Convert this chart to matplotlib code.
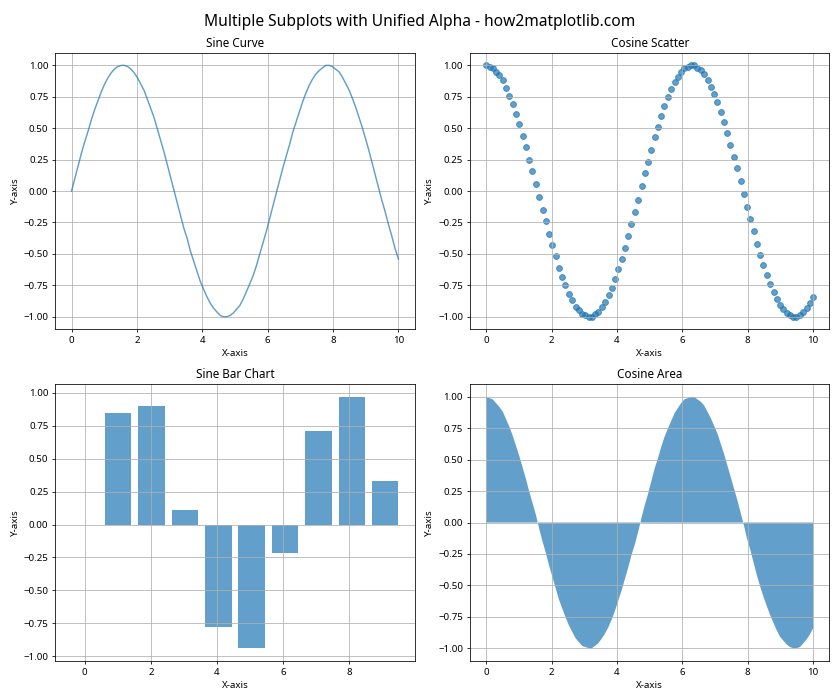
import matplotlib
matplotlib.use("Agg")
import matplotlib.pyplot as plt

plt.rcParams['font.family'] = ['Noto Sans', 'DejaVu Sans']

# sample points (0 .. 10, 100 points)
x = [0.00, 0.10, 0.20, 0.30, 0.40, 0.51, 0.61, 0.71, 0.81, 0.91,
     1.01, 1.11, 1.21, 1.31, 1.41, 1.52, 1.62, 1.72, 1.82, 1.92,
     2.02, 2.12, 2.22, 2.32, 2.42, 2.53, 2.63, 2.73, 2.83, 2.93,
     3.03, 3.13, 3.23, 3.33, 3.43, 3.54, 3.64, 3.74, 3.84, 3.94,
     4.04, 4.14, 4.24, 4.34, 4.44, 4.55, 4.65, 4.75, 4.85, 4.95,
     5.05, 5.15, 5.25, 5.35, 5.45, 5.56, 5.66, 5.76, 5.86, 5.96,
     6.06, 6.16, 6.26, 6.36, 6.46, 6.57, 6.67, 6.77, 6.87, 6.97,
     7.07, 7.17, 7.27, 7.37, 7.47, 7.58, 7.68, 7.78, 7.88, 7.98,
     8.08, 8.18, 8.28, 8.38, 8.48, 8.59, 8.69, 8.79, 8.89, 8.99,
     9.09, 9.19, 9.29, 9.39, 9.49, 9.60, 9.70, 9.80, 9.90, 10.00]

sine_vals = [0.00, 0.10, 0.20, 0.30, 0.39, 0.48, 0.57, 0.65, 0.72, 0.79,
             0.85, 0.90, 0.94, 0.97, 0.99, 1.00, 1.00, 0.99, 0.97, 0.94,
             0.90, 0.85, 0.80, 0.73, 0.66, 0.58, 0.49, 0.40, 0.31, 0.21,
             0.11, 0.01, -0.09, -0.19, -0.29, -0.38, -0.48, -0.56, -0.64, -0.72,
             -0.78, -0.84, -0.89, -0.93, -0.96, -0.99, -1.00, -1.00, -0.99, -0.97,
             -0.94, -0.91, -0.86, -0.80, -0.74, -0.67, -0.59, -0.50, -0.41, -0.32,
             -0.22, -0.12, -0.02, 0.08, 0.18, 0.28, 0.37, 0.47, 0.55, 0.63,
             0.71, 0.78, 0.84, 0.89, 0.93, 0.96, 0.98, 1.00, 1.00, 0.99,
             0.97, 0.95, 0.91, 0.86, 0.81, 0.74, 0.67, 0.59, 0.51, 0.42,
             0.33, 0.23, 0.13, 0.03, -0.07, -0.17, -0.27, -0.36, -0.46, -0.54]

cosine_vals = [1.00, 0.99, 0.98, 0.95, 0.92, 0.88, 0.82, 0.76, 0.69, 0.61,
               0.53, 0.44, 0.35, 0.25, 0.16, 0.06, -0.05, -0.15, -0.24, -0.34,
               -0.43, -0.52, -0.61, -0.68, -0.75, -0.82, -0.87, -0.92, -0.95, -0.98,
               -0.99, -1.00, -1.00, -0.98, -0.96, -0.92, -0.88, -0.83, -0.77, -0.70,
               -0.62, -0.54, -0.45, -0.36, -0.26, -0.17, -0.07, 0.04, 0.14, 0.23,
               0.33, 0.43, 0.51, 0.60, 0.68, 0.75, 0.81, 0.87, 0.91, 0.95,
               0.98, 0.99, 1.00, 1.00, 0.98, 0.96, 0.93, 0.88, 0.83, 0.77,
               0.71, 0.63, 0.55, 0.46, 0.37, 0.27, 0.18, 0.08, -0.02, -0.13,
               -0.22, -0.32, -0.42, -0.51, -0.59, -0.67, -0.74, -0.80, -0.86, -0.91,
               -0.94, -0.97, -0.99, -1.00, -1.00, -0.99, -0.96, -0.93, -0.89, -0.84]

# bar chart: every 10th sample
bar_x = [0.00, 1.01, 2.02, 3.03, 4.04, 5.05, 6.06, 7.07, 8.08, 9.09]
bar_h = [0.00, 0.85, 0.90, 0.11, -0.78, -0.94, -0.22, 0.71, 0.97, 0.33]

alpha = 0.7

fig, axs = plt.subplots(2, 2, figsize=(12, 10), dpi=70)
fig.suptitle('Multiple Subplots with Unified Alpha - how2matplotlib.com', fontsize=16)

axs[0, 0].plot(x, sine_vals, alpha=alpha)
axs[0, 0].set_title('Sine Curve')

axs[0, 1].scatter(x, cosine_vals, alpha=alpha)
axs[0, 1].set_title('Cosine Scatter')

axs[1, 0].bar(bar_x, bar_h, alpha=alpha)
axs[1, 0].set_title('Sine Bar Chart')

axs[1, 1].fill_between(x, cosine_vals, alpha=alpha)
axs[1, 1].set_title('Cosine Area')

for ax in axs.flat:
    ax.set_xlabel('X-axis')
    ax.set_ylabel('Y-axis')
    ax.grid(True)

plt.tight_layout()
plt.savefig('out.png', dpi=70)
